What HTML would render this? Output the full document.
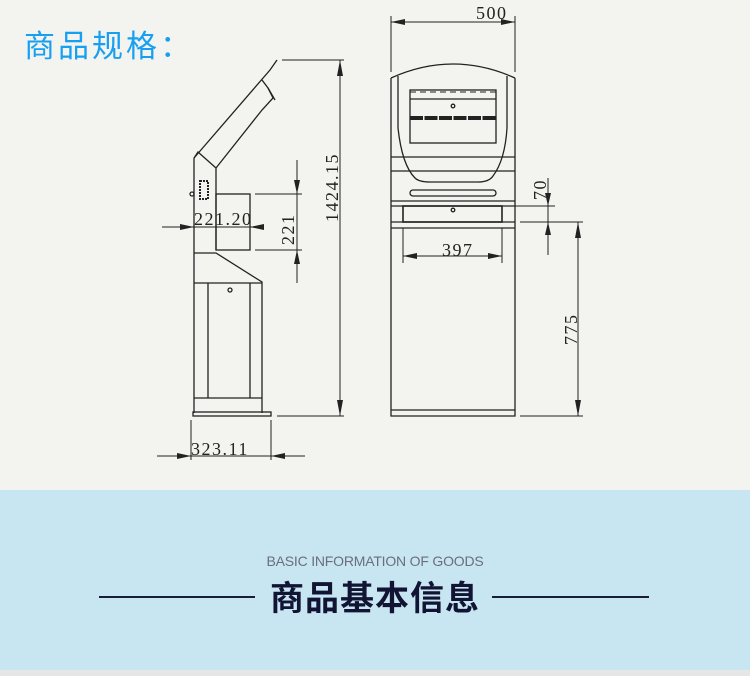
<!DOCTYPE html>
<html><head><meta charset="utf-8"><style>
html,body{margin:0;padding:0;}
body{width:750px;height:676px;overflow:hidden;background:#f3f3ef;position:relative;font-family:"Liberation Sans","Noto Sans CJK SC",sans-serif;}
.title{position:absolute;left:24px;top:26px;font-size:31px;color:#18a0f0;letter-spacing:3px;font-family:"Noto Sans CJK SC",sans-serif;line-height:36px;}
.band{position:absolute;left:0;top:490px;width:750px;height:180px;background:#c8e5f2;}
.strip{position:absolute;left:0;top:670px;width:750px;height:6px;background:#e6e6e6;}
.en{position:absolute;left:0;width:750px;top:553px;text-align:center;font-size:14px;color:#6a6f7a;letter-spacing:-0.2px;}
.cn{position:absolute;left:0;width:750px;top:572px;text-align:center;font-size:34px;font-weight:bold;color:#111433;font-family:"Noto Sans CJK SC",sans-serif;line-height:48px;letter-spacing:1px;}
.ln{position:absolute;top:596px;height:2px;background:#1a1d3a;}
svg{position:absolute;left:0;top:0;}
</style></head><body>
<div class="title">商品规格：</div>
<svg width="750" height="490" viewBox="0 0 750 490" fill="none" stroke="#222" stroke-width="1">
<g font-family="Liberation Serif, serif" fill="#222" stroke="none" font-size="18" letter-spacing="1.5">
<text x="194" y="225">221.20</text>
<text x="191" y="455">323.11</text>
<text x="476" y="19">500</text>
<text x="442" y="256">397</text>
<text transform="translate(338,222) rotate(-90)">1424.15</text>
<text transform="translate(294,245) rotate(-90)">221</text>
<text transform="translate(546,200) rotate(-90)">70</text>
<text transform="translate(577,345) rotate(-90)">775</text>
</g>
<!-- left view -->
<g stroke-width="1.3">
<path d="M194,158 L270,70 L277,60"/>
<path d="M216,168 L262,110 L273,98 L268,88 L262,80"/>
<path d="M268,88 L275,100"/>
<path d="M194,158 L194,413 M216,168 L216,250 M194,158 L198,152 L216,168"/>
<rect x="216" y="194" width="34" height="56"/>
<path d="M194,253 L216,253 L262,282 L262,413"/>
<path d="M194,283 L262,283"/>
<path d="M208,283 L208,398 M250,283 L250,398 M194,398 L262,398"/>
<rect x="193" y="412" width="78" height="4"/>
<circle cx="230" cy="290" r="2"/>
<circle cx="192" cy="194" r="2"/>
<rect x="200" y="181" width="8" height="18" stroke-width="2" stroke-dasharray="2 1"/>
</g>
<!-- dims left -->
<path d="M282,60 L344,60 M277,416 L344,416 M340,60 L340,416"/>
<path d="M255,194 L302,194 M255,250 L302,250 M297,160 L297,283"/>
<path d="M162,227 L260,227 M191,420 L191,460 M271,420 L271,460 M157,456 L305,456"/>
<g fill="#222" stroke="none">
<path d="M340,60 l-3,16 h6z M340,416 l-3,-16 h6z"/>
<path d="M297,194 l-3,-14 h6z M297,250 l-3,14 h6z"/>
<path d="M194,227 l-14,-3 v6z M250,227 l14,-3 v6z"/>
<path d="M191,456 l-14,-3 v6z M271,456 l14,-3 v6z"/>
</g>
<!-- front view -->
<g stroke-width="1.3">
<path d="M391,78 Q453,50 515,78"/>
<path d="M391,78 L391,416 L515,416 L515,78"/>
<path d="M391,410 L515,410"/>
<path d="M398,76 L398,128 Q402,165 415,178 Q419,182 430,182 L478,182 Q489,182 493,176 Q505,160 507,128 L507,76"/>
<rect x="410" y="90" width="86" height="53"/>
<path d="M410,99 L496,99"/>
<circle cx="453" cy="106" r="1.8"/>
<path d="M391,157 L515,157 M391,171 L515,171"/>
<rect x="410" y="190" width="86" height="6" rx="3"/>
<path d="M391,201 L515,201 M391,206 L515,206 M391,222 L515,222 M391,228 L515,228"/>
<rect x="403" y="206" width="99" height="16" stroke-width="1.6"/>
<circle cx="453" cy="210" r="1.8"/>
</g>
<path d="M410,118 L496,118" stroke-width="4" stroke-dasharray="13 1.5"/>
<path d="M410,92 L496,92" stroke-width="1" stroke-dasharray="6 4"/>
<!-- front dims -->
<path d="M391,16 L391,72 M515,16 L515,72 M391,22 L515,22"/>
<path d="M502,206 L555,206 M548,178 L548,255"/>
<path d="M403,228 L403,263 M502,228 L502,263 M403,256 L502,256"/>
<path d="M520,222 L583,222 M520,416 L583,416 M578,222 L578,416"/>
<g fill="#222" stroke="none">
<path d="M391,22 l14,-3 v6z M515,22 l-14,-3 v6z"/>
<path d="M548,206 l-3,-13 h6z M548,222 l-3,13 h6z"/>
<path d="M403,256 l14,-3 v6z M502,256 l-14,-3 v6z"/>
<path d="M578,222 l-3,16 h6z M578,416 l-3,-16 h6z"/>
</g>
</svg>
<div class="band"></div>
<div class="strip"></div>
<div class="en">BASIC INFORMATION OF GOODS</div>
<div class="ln" style="left:99px;width:156px;"></div>
<div class="ln" style="left:492px;width:157px;"></div>
<div class="cn">商品基本信息</div>
</body></html>
